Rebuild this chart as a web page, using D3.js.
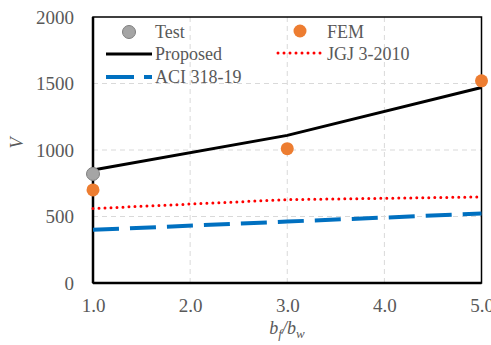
<!DOCTYPE html>
<html>
<head>
<meta charset="utf-8">
<script src="https://cdn.jsdelivr.net/npm/d3@7"></script>
<style>
  body { margin: 0; background: #fff; }
  svg text { font-family: "Liberation Serif", "Times New Roman", serif; fill: #595959; }
</style>
</head>
<body>
<svg id="chart" width="491" height="345"></svg>
<script>
// data
const ratio = [1, 3, 5];
const test = [[1, 820]];
const fem = [[1, 700], [3, 1010], [5, 1520]];
const proposed = [850, 1110, 1470];
const jgj = [560, 627, 647];
const aci = [400, 462, 522];
const xTicks = [1, 2, 3, 4, 5];
const yTicks = [0, 500, 1000, 1500, 2000];

const svg = d3.select("#chart");
const margin = {left: 93, right: 9.5, top: 17, bottom: 62};
const width = 491 - margin.left - margin.right;
const height = 345 - margin.top - margin.bottom;

const x = d3.scaleLinear().domain([1, 5]).range([0, width]);
const y = d3.scaleLinear().domain([0, 2000]).range([height, 0]);

const g = svg.append("g").attr("transform", "translate(" + margin.left + "," + margin.top + ")");

// grid
g.append("g").selectAll("line").data(xTicks.slice(1, -1)).enter().append("line")
  .attr("x1", d => x(d)).attr("x2", d => x(d))
  .attr("y1", 0).attr("y2", height)
  .attr("stroke", "#d9d9d9").attr("stroke-dasharray", "5,4");
g.append("g").selectAll("line").data(yTicks.slice(1, -1)).enter().append("line")
  .attr("x1", 0).attr("x2", width)
  .attr("y1", d => y(d)).attr("y2", d => y(d))
  .attr("stroke", "#d9d9d9").attr("stroke-dasharray", "5,4");

// frame
g.append("rect").attr("width", width).attr("height", height)
  .attr("fill", "none").attr("stroke", "#000").attr("stroke-width", 1.5);
g.append("line").attr("x1", 0).attr("x2", 0).attr("y1", 0).attr("y2", height)
  .attr("stroke", "#000").attr("stroke-width", 2.5);
g.append("line").attr("x1", 0).attr("x2", width).attr("y1", height).attr("y2", height)
  .attr("stroke", "#000").attr("stroke-width", 2.5);

// axes (labels only)
const xAxis = g.append("g").attr("transform", "translate(0," + height + ")")
  .call(d3.axisBottom(x).tickValues(xTicks).tickFormat(d3.format(".1f")).tickSize(0).tickPadding(16));
const yAxis = g.append("g")
  .call(d3.axisLeft(y).tickValues(yTicks).tickFormat(d3.format("d")).tickSize(0).tickPadding(19));
[xAxis, yAxis].forEach(a => {
  a.attr("font-family", null).attr("font-size", null);
  a.select(".domain").remove();
  a.selectAll("text").attr("fill", "#595959")
    .style("font-size", "19px")
    .style("font-family", "'Liberation Serif', serif");
});

// lines
const line = d3.line().x((d, i) => x(ratio[i])).y(d => y(d));
g.append("path").datum(aci).attr("d", line)
  .attr("fill", "none").attr("stroke", "#0070c0").attr("stroke-width", 4)
  .attr("stroke-dasharray", "26,11");
g.append("path").datum(jgj).attr("d", line)
  .attr("fill", "none").attr("stroke", "#ff0000").attr("stroke-width", 3)
  .attr("stroke-dasharray", "0,6").attr("stroke-linecap", "round");
g.append("path").datum(proposed).attr("d", line)
  .attr("fill", "none").attr("stroke", "#000").attr("stroke-width", 3);

// points
g.selectAll("circle.fem").data(fem).enter().append("circle").attr("class", "fem")
  .attr("cx", d => x(d[0])).attr("cy", d => y(d[1])).attr("r", 6.5)
  .attr("fill", "#ed7d31");
g.selectAll("circle.test").data(test).enter().append("circle").attr("class", "test")
  .attr("cx", d => x(d[0])).attr("cy", d => y(d[1])).attr("r", 6.5)
  .attr("fill", "#a5a5a5").attr("stroke", "#7f7f7f").attr("stroke-width", 1);

// legend
const leg = svg.append("g");
leg.append("circle").attr("cx", 129).attr("cy", 32).attr("r", 6.5)
  .attr("fill", "#a5a5a5").attr("stroke", "#7f7f7f");
leg.append("text").attr("x", 155).attr("y", 38).text("Test").style("font-size", "18px");
leg.append("line").attr("x1", 106).attr("x2", 152).attr("y1", 54).attr("y2", 54)
  .attr("stroke", "#000").attr("stroke-width", 3);
leg.append("text").attr("x", 155).attr("y", 60).text("Proposed").style("font-size", "18px");
leg.append("line").attr("x1", 106).attr("x2", 152).attr("y1", 77).attr("y2", 77)
  .attr("stroke", "#0070c0").attr("stroke-width", 4).attr("stroke-dasharray", "28,10");
leg.append("text").attr("x", 155).attr("y", 83).text("ACI 318-19").style("font-size", "18px");
leg.append("circle").attr("cx", 300).attr("cy", 31).attr("r", 6.5).attr("fill", "#ed7d31");
leg.append("text").attr("x", 327).attr("y", 38).text("FEM").style("font-size", "18px");
leg.append("line").attr("x1", 278).attr("x2", 321).attr("y1", 53).attr("y2", 53)
  .attr("stroke", "#ff0000").attr("stroke-width", 3)
  .attr("stroke-dasharray", "0,6").attr("stroke-linecap", "round");
leg.append("text").attr("x", 327).attr("y", 60).text("JGJ 3-2010").style("font-size", "18px");

// axis titles
svg.append("text").attr("transform", "translate(23,143) rotate(-90)")
  .attr("text-anchor", "middle").style("font-size", "18px").style("font-style", "italic")
  .text("V");
const xt = svg.append("text").attr("x", 287).attr("y", 334).attr("text-anchor", "middle")
  .style("font-size", "18px").style("font-style", "italic");
xt.append("tspan").text("b");
xt.append("tspan").attr("dy", 4).style("font-size", "13px").text("f");
xt.append("tspan").attr("dy", -4).text("/b");
xt.append("tspan").attr("dy", 4).style("font-size", "13px").text("w");
</script>
</body>
</html>
